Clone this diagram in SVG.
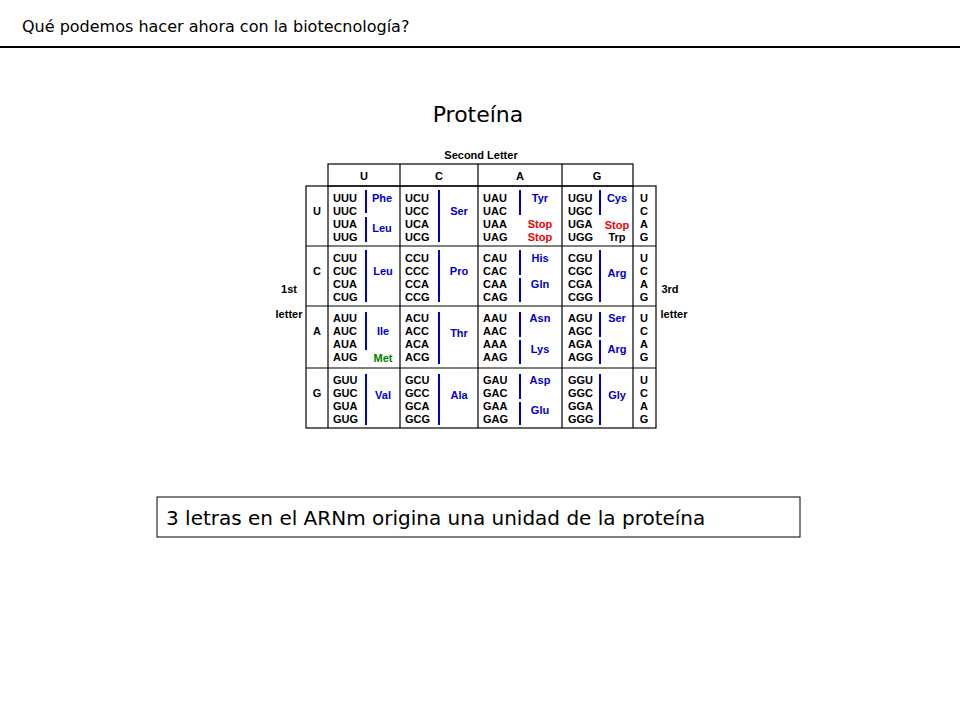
<svg xmlns="http://www.w3.org/2000/svg" width="960" height="720" viewBox="0 0 960 720">
<style>
.h{font-family:"DejaVu Sans",sans-serif;fill:#000}
.t{font-family:"Liberation Sans",Arial,sans-serif;font-weight:bold;font-size:11px;fill:#000}
.b{fill:#0000cc;font-size:11px}
.r{fill:#ee0000}
.g{fill:#008000}
.bar{stroke:#0000cc;stroke-width:2}
.grid{fill:none;stroke:#000;stroke-width:1.2}
</style>
<rect width="960" height="720" fill="#fff"/>
<text class="h" x="22" y="32" font-size="16">Qué podemos hacer ahora con la biotecnología?</text>
<line x1="0" y1="47" x2="960" y2="47" stroke="#000" stroke-width="2"/>
<text class="h" x="478" y="122" font-size="22" text-anchor="middle">Proteína</text>
<g id="table">
<text class="t" x="481" y="159" text-anchor="middle">Second Letter</text>
<rect class="grid" x="328" y="164" width="305" height="22"/>
<line class="grid" x1="400" y1="164" x2="400" y2="186"/><line class="grid" x1="478" y1="164" x2="478" y2="186"/><line class="grid" x1="562" y1="164" x2="562" y2="186"/>
<text class="t" x="364" y="180" text-anchor="middle">U</text><text class="t" x="439" y="180" text-anchor="middle">C</text><text class="t" x="520" y="180" text-anchor="middle">A</text><text class="t" x="597" y="180" text-anchor="middle">G</text>
<rect class="grid" x="306" y="186" width="350" height="242"/>
<g class="grid"><line x1="328" y1="186" x2="328" y2="428"/><line x1="400" y1="186" x2="400" y2="428"/><line x1="478" y1="186" x2="478" y2="428"/><line x1="562" y1="186" x2="562" y2="428"/><line x1="633" y1="186" x2="633" y2="428"/>
<line x1="306" y1="246" x2="656" y2="246"/><line x1="306" y1="306" x2="656" y2="306"/><line x1="306" y1="368" x2="656" y2="368"/></g>
<text class="t" x="289" y="293" text-anchor="middle">1st</text><text class="t" x="289" y="318" text-anchor="middle">letter</text>
<text class="t" x="670" y="293" text-anchor="middle">3rd</text><text class="t" x="674" y="318" text-anchor="middle">letter</text>
<g class="t" text-anchor="middle"><text x="317" y="215">U</text><text x="317" y="275">C</text><text x="317" y="335">A</text><text x="317" y="397">G</text></g>
<g class="t" text-anchor="middle">
<text x="644" y="202">U</text><text x="644" y="215">C</text><text x="644" y="228">A</text><text x="644" y="241">G</text>
<text x="644" y="262">U</text><text x="644" y="275">C</text><text x="644" y="288">A</text><text x="644" y="301">G</text>
<text x="644" y="322">U</text><text x="644" y="335">C</text><text x="644" y="348">A</text><text x="644" y="361">G</text>
<text x="644" y="384">U</text><text x="644" y="397">C</text><text x="644" y="410">A</text><text x="644" y="423">G</text>
</g>
<g class="t">
<text x="333" y="202">UUU</text><text x="333" y="215">UUC</text><text x="333" y="228">UUA</text><text x="333" y="241">UUG</text>
<text x="405" y="202">UCU</text><text x="405" y="215">UCC</text><text x="405" y="228">UCA</text><text x="405" y="241">UCG</text>
<text x="483" y="202">UAU</text><text x="483" y="215">UAC</text><text x="483" y="228">UAA</text><text x="483" y="241">UAG</text>
<text x="568" y="202">UGU</text><text x="568" y="215">UGC</text><text x="568" y="228">UGA</text><text x="568" y="241">UGG</text>
<text x="333" y="262">CUU</text><text x="333" y="275">CUC</text><text x="333" y="288">CUA</text><text x="333" y="301">CUG</text>
<text x="405" y="262">CCU</text><text x="405" y="275">CCC</text><text x="405" y="288">CCA</text><text x="405" y="301">CCG</text>
<text x="483" y="262">CAU</text><text x="483" y="275">CAC</text><text x="483" y="288">CAA</text><text x="483" y="301">CAG</text>
<text x="568" y="262">CGU</text><text x="568" y="275">CGC</text><text x="568" y="288">CGA</text><text x="568" y="301">CGG</text>
<text x="333" y="322">AUU</text><text x="333" y="335">AUC</text><text x="333" y="348">AUA</text><text x="333" y="361">AUG</text>
<text x="405" y="322">ACU</text><text x="405" y="335">ACC</text><text x="405" y="348">ACA</text><text x="405" y="361">ACG</text>
<text x="483" y="322">AAU</text><text x="483" y="335">AAC</text><text x="483" y="348">AAA</text><text x="483" y="361">AAG</text>
<text x="568" y="322">AGU</text><text x="568" y="335">AGC</text><text x="568" y="348">AGA</text><text x="568" y="361">AGG</text>
<text x="333" y="384">GUU</text><text x="333" y="397">GUC</text><text x="333" y="410">GUA</text><text x="333" y="423">GUG</text>
<text x="405" y="384">GCU</text><text x="405" y="397">GCC</text><text x="405" y="410">GCA</text><text x="405" y="423">GCG</text>
<text x="483" y="384">GAU</text><text x="483" y="397">GAC</text><text x="483" y="410">GAA</text><text x="483" y="423">GAG</text>
<text x="568" y="384">GGU</text><text x="568" y="397">GGC</text><text x="568" y="410">GGA</text><text x="568" y="423">GGG</text>
</g>
<g class="bar">
<line x1="366" y1="190" x2="366" y2="213"/><line x1="366" y1="217" x2="366" y2="242"/>
<line x1="439" y1="190" x2="439" y2="242"/>
<line x1="520" y1="190" x2="520" y2="215"/>
<line x1="600" y1="190" x2="600" y2="215"/>
<line x1="366" y1="250" x2="366" y2="302"/>
<line x1="439" y1="250" x2="439" y2="302"/>
<line x1="520" y1="250" x2="520" y2="275"/><line x1="520" y1="278" x2="520" y2="302"/>
<line x1="600" y1="250" x2="600" y2="302"/>
<line x1="366" y1="312" x2="366" y2="350"/>
<line x1="439" y1="312" x2="439" y2="364"/>
<line x1="520" y1="312" x2="520" y2="337"/><line x1="520" y1="340" x2="520" y2="364"/>
<line x1="600" y1="312" x2="600" y2="337"/><line x1="600" y1="340" x2="600" y2="364"/>
<line x1="366" y1="374" x2="366" y2="425"/>
<line x1="439" y1="374" x2="439" y2="425"/>
<line x1="520" y1="374" x2="520" y2="399"/><line x1="520" y1="402" x2="520" y2="425"/>
<line x1="600" y1="374" x2="600" y2="425"/>
</g>
<g class="t b" text-anchor="middle">
<text x="382" y="202">Phe</text><text x="382" y="232">Leu</text><text x="459" y="215">Ser</text><text x="540" y="202">Tyr</text><text x="617" y="202">Cys</text>
<text x="383" y="275">Leu</text><text x="459" y="275">Pro</text><text x="540" y="262">His</text><text x="540" y="288">Gln</text><text x="617" y="277">Arg</text>
<text x="383" y="335">Ile</text><text x="459" y="337">Thr</text><text x="540" y="322">Asn</text><text x="540" y="353">Lys</text><text x="617" y="322">Ser</text><text x="617" y="353">Arg</text>
<text x="383" y="399">Val</text><text x="459" y="399">Ala</text><text x="540" y="384">Asp</text><text x="540" y="414">Glu</text><text x="617" y="399">Gly</text>
</g>
<g class="t" text-anchor="middle">
<text class="r" x="540" y="228">Stop</text><text class="r" x="540" y="241">Stop</text><text class="r" x="617" y="229">Stop</text><text x="617" y="241">Trp</text>
<text class="g" x="383" y="362">Met</text>
</g>
</g>
<g id="note">
<rect x="157" y="497" width="643" height="40" fill="#fff" stroke="#000" stroke-width="1"/>
<text class="h" x="166" y="525" font-size="20">3 letras en el ARNm origina una unidad de la proteína</text>
</g>
</svg>
